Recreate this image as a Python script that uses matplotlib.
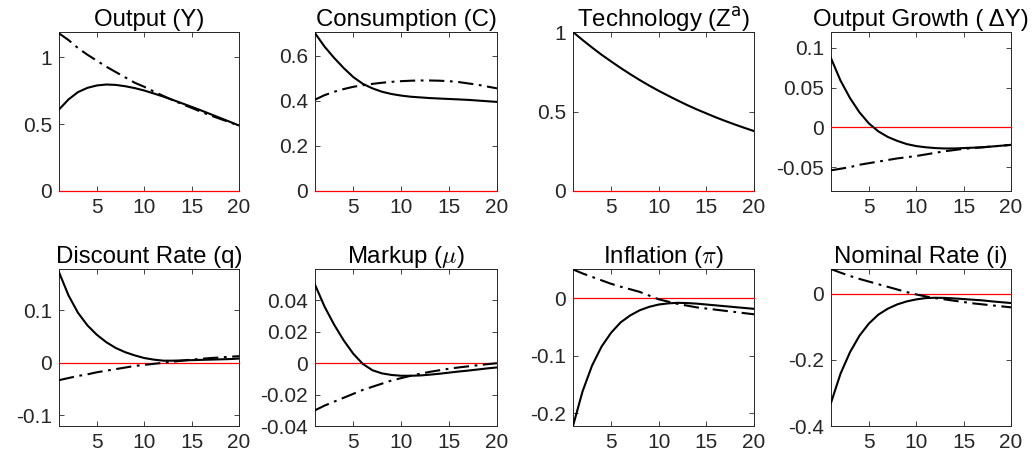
import matplotlib
matplotlib.use("Agg")
import matplotlib.pyplot as plt

plt.rcParams["font.family"] = ["Liberation Sans", "DejaVu Sans"]
plt.rcParams["lines.scale_dashes"] = False

periods = list(range(1, 21))

# impulse responses (solid / dash-dot)
output_solid = [0.61, 0.685, 0.74, 0.772, 0.79, 0.797, 0.794, 0.784, 0.77, 0.752,
                0.73, 0.707, 0.682, 0.656, 0.63, 0.603, 0.575, 0.547, 0.519, 0.49]
output_dash = [1.18, 1.13, 1.07, 1.02, 0.975, 0.93, 0.89, 0.85, 0.81, 0.78,
               0.745, 0.712, 0.68, 0.65, 0.622, 0.593, 0.565, 0.54, 0.515, 0.49]

cons_solid = [0.70, 0.64, 0.59, 0.545, 0.505, 0.475, 0.455, 0.44, 0.43, 0.423,
              0.418, 0.415, 0.412, 0.41, 0.408, 0.406, 0.404, 0.401, 0.398, 0.395]
cons_dash = [0.405, 0.425, 0.44, 0.452, 0.462, 0.469, 0.475, 0.48, 0.484, 0.487,
             0.489, 0.49, 0.49, 0.489, 0.487, 0.483, 0.477, 0.471, 0.463, 0.455]

tech_solid = [1.0, 0.95, 0.9025, 0.857, 0.815, 0.774, 0.735, 0.698, 0.663, 0.630,
              0.599, 0.569, 0.540, 0.513, 0.488, 0.463, 0.440, 0.418, 0.397, 0.377]

growth_solid = [0.087, 0.059, 0.037, 0.019, 0.005, -0.005, -0.012, -0.017, -0.021, -0.0235,
                -0.025, -0.026, -0.0265, -0.0265, -0.026, -0.0255, -0.025, -0.024, -0.023, -0.022]
growth_dash = [-0.054, -0.052, -0.050, -0.047, -0.045, -0.043, -0.041, -0.039, -0.0375, -0.036,
               -0.034, -0.032, -0.030, -0.0285, -0.027, -0.026, -0.025, -0.024, -0.023, -0.022]

disc_solid = [0.172, 0.128, 0.095, 0.071, 0.053, 0.039, 0.028, 0.020, 0.014, 0.009,
              0.006, 0.004, 0.004, 0.0045, 0.005, 0.0055, 0.006, 0.0065, 0.007, 0.008]
disc_dash = [-0.033, -0.029, -0.025, -0.022, -0.018, -0.015, -0.012, -0.009, -0.006, -0.004,
             -0.002, 0.0, 0.002, 0.004, 0.006, 0.0075, 0.009, 0.010, 0.0115, 0.0125]

markup_solid = [0.050, 0.036, 0.0245, 0.0145, 0.006, -0.0005, -0.0045, -0.0065, -0.0075, -0.008,
                -0.008, -0.0078, -0.0073, -0.0067, -0.006, -0.0053, -0.0047, -0.004, -0.0033, -0.0027]
markup_dash = [-0.030, -0.027, -0.0245, -0.022, -0.0195, -0.017, -0.015, -0.013, -0.011, -0.0095,
               -0.008, -0.0067, -0.0055, -0.0045, -0.0035, -0.0027, -0.002, -0.0013, -0.0006, 0.0]

infl_solid = [-0.222, -0.162, -0.117, -0.084, -0.060, -0.042, -0.030, -0.021, -0.015, -0.011,
              -0.009, -0.008, -0.0085, -0.0095, -0.011, -0.0125, -0.014, -0.0155, -0.017, -0.0185]
infl_dash = [0.050, 0.043, 0.037, 0.031, 0.025, 0.020, 0.0155, 0.011, 0.0045, -0.002,
             -0.006, -0.010, -0.013, -0.016, -0.018, -0.020, -0.022, -0.024, -0.026, -0.028]

nom_solid = [-0.330, -0.242, -0.177, -0.127, -0.090, -0.063, -0.045, -0.032, -0.023, -0.017,
             -0.013, -0.012, -0.0125, -0.014, -0.016, -0.018, -0.020, -0.023, -0.0255, -0.028]
nom_dash = [0.075, 0.064, 0.054, 0.045, 0.037, 0.029, 0.021, 0.013, 0.005, -0.002,
            -0.008, -0.013, -0.017, -0.021, -0.025, -0.029, -0.032, -0.035, -0.038, -0.041]

titles = ["Output (Y)", "Consumption (C)", r"Technology (Z$^{\mathrm{a}}$)", "Output Growth ( \u0394Y)",
          "Discount Rate (q)", r"Markup ($\mu$)", r"Inflation ($\pi$)", "Nominal Rate (i)"]
math_fonts = ["dejavusans", "dejavusans", "dejavusans", "dejavusans",
              "dejavusans", "cm", "cm", "dejavusans"]
solids = [output_solid, cons_solid, tech_solid, growth_solid,
          disc_solid, markup_solid, infl_solid, nom_solid]
dashes = [output_dash, cons_dash, None, growth_dash,
          disc_dash, markup_dash, infl_dash, nom_dash]
ylims = [(0, 1.19), (0, 0.705), (0, 1.0), (-0.08, 0.12),
         (-0.12, 0.178), (-0.04, 0.06), (-0.222, 0.0507), (-0.4, 0.075)]
yticks = [[0, 0.5, 1], [0, 0.2, 0.4, 0.6], [0, 0.5, 1], [-0.05, 0, 0.05, 0.1],
          [-0.1, 0, 0.1], [-0.04, -0.02, 0, 0.02, 0.04], [-0.2, -0.1, 0], [-0.4, -0.2, 0]]
ytick_labels = [["0", "0.5", "1"], ["0", "0.2", "0.4", "0.6"], ["0", "0.5", "1"],
                ["-0.05", "0", "0.05", "0.1"], ["-0.1", "0", "0.1"],
                ["-0.04", "-0.02", "0", "0.02", "0.04"], ["-0.2", "-0.1", "0"], ["-0.4", "-0.2", "0"]]

W, H = 1034, 468
col_px = [(59, 239), (315, 497), (573, 754), (831, 1011)]
row_px = [(32, 191), (269, 426)]

fig = plt.figure(figsize=(W / 100, H / 100), dpi=100)
axis_grey = "#262626"

for k in range(8):
    r, c = divmod(k, 4)
    x0, x1 = col_px[c]
    y0, y1 = row_px[r]
    ax = fig.add_axes([x0 / W, 1 - y1 / H, (x1 - x0) / W, (y1 - y0) / H])

    ax.plot(periods, [0] * len(periods), color="red", lw=0.9, zorder=3, clip_on=False)
    if dashes[k] is not None:
        ax.plot(periods, dashes[k], color="black", lw=1.5, dashes=(11, 4, 2, 4), zorder=4)
    ax.plot(periods, solids[k], color="black", lw=1.5, zorder=5)

    ax.set_xlim(1, 20)
    ax.set_ylim(*ylims[k])
    ax.set_xticks([5, 10, 15, 20])
    ax.set_xticklabels(["5", "10", "15", "20"])
    ax.set_yticks(yticks[k])
    ax.set_yticklabels(ytick_labels[k])
    ax.tick_params(direction="in", length=3.5, width=0.6, top=True, right=True,
                   labelsize=15, colors=axis_grey, pad=5)
    for s in ax.spines.values():
        s.set_linewidth(0.7)
        s.set_color(axis_grey)
    ax.set_title(titles[k], fontsize=17.3, pad=4, color="black", math_fontfamily=math_fonts[k])

fig.savefig("out.png", dpi=100, facecolor="white")
